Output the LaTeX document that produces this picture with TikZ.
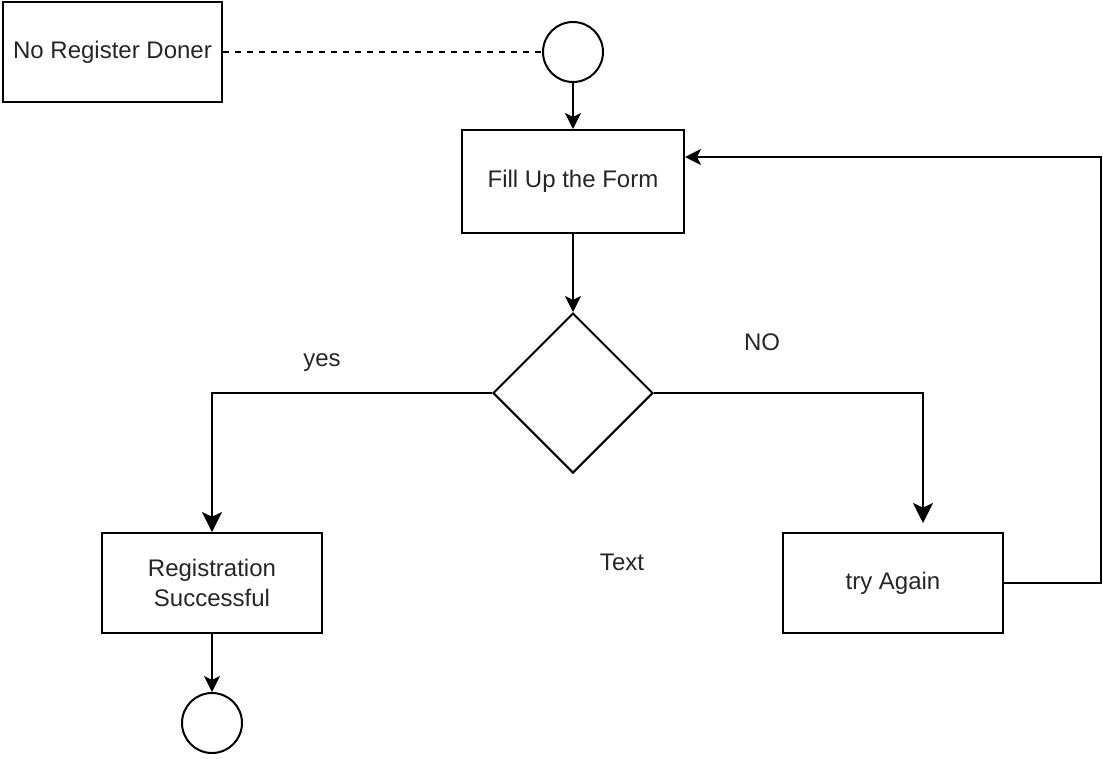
\documentclass[tikz,border=0pt]{standalone}
\usepackage{fontspec}
\setmainfont{Liberation Sans}
\usetikzlibrary{shapes.geometric,arrows.meta}
\begin{document}
\begin{tikzpicture}[x=0.75pt,y=-0.75pt,
  every node/.style={font=\fontsize{18}{23}\selectfont, text=black!85},
  box/.style={draw, line width=1.5pt, rectangle, inner sep=0pt, align=center},
  ring/.style={draw, line width=1.5pt, circle, minimum size=45pt, inner sep=0pt},
  decision/.style={draw, line width=1.5pt, diamond, aspect=1, minimum width=120pt, minimum height=120pt, inner sep=0pt},
  conn/.style={line width=1.5pt, -{Stealth[length=12pt,width=12pt,inset=3pt]}},
  bigconn/.style={line width=1.8pt, -{Stealth[length=15pt,width=15pt,inset=3.5pt]}},
  plain/.style={line width=1.5pt},
  lbl/.style={inner sep=0pt}
]
\useasboundingbox (0,0) rectangle (1103,758);
\node[box, minimum width=164.25pt, minimum height=75pt] (nrd) at (112.5,52) {No Register Doner};
\node[ring] (c1) at (573,52) {};
\node[box, minimum width=166.5pt, minimum height=77.25pt] (fill) at (573,181.5) {Fill Up the Form};
\node[decision] (dia) at (573,393) {};
\node[box, minimum width=165pt, minimum height=75pt] (reg) at (212,583) {Registration\\Successful};
\node[box, minimum width=165pt, minimum height=75pt] (try) at (893,583) {try Again};
\node[ring] (c2) at (212,723) {};
\node[lbl] (yes) at (322,363) {yes};
\node[lbl] (no) at (762,342) {NO};
\node[lbl] (txt) at (622,562) {Text};
\coordinate (back) at (1101,157);
\coordinate (tryin) at (923,523);

\draw[plain, dash pattern=on 4.5pt off 4.5pt] (nrd.east) -- (c1.west);
\draw[conn] (c1.south) -- (fill.north);
\draw[conn] (fill.south) -- (dia.north);
\draw[bigconn] (dia.west) -| (reg.north);
\draw[bigconn] (dia.east) -| (tryin);
\draw[conn] (try.east) -| (back) -- (back -| fill.east);
\draw[conn] (reg.south) -- (c2.north);
\end{tikzpicture}
\end{document}
